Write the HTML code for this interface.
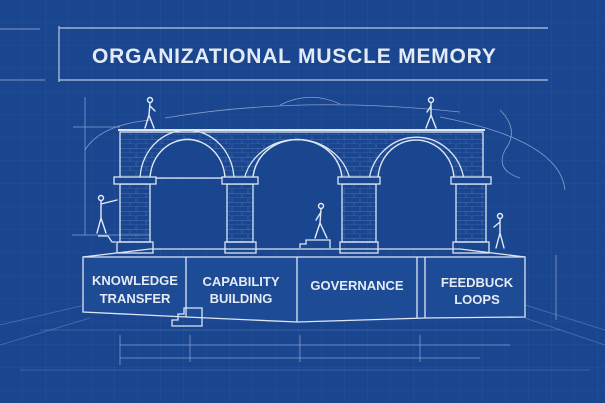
<!DOCTYPE html>
<html><head><style>
html,body{margin:0;padding:0;background:#1a4690;}
svg{display:block}
text{font-family:"Liberation Sans",sans-serif;font-weight:bold;fill:#e4ebf5}
</style></head><body>
<svg width="605" height="403" viewBox="0 0 605 403" xmlns="http://www.w3.org/2000/svg">
<defs>
<pattern id="g" width="23" height="23" patternUnits="userSpaceOnUse">
<path d="M23 0V23H0" fill="none" stroke="#3a63a8" stroke-width="0.6" opacity="0.7"/>
</pattern>
<pattern id="b" width="16" height="9" patternUnits="userSpaceOnUse">
<path d="M0 9H16M8 0V4.5M0 4.5H16M2 4.5V9" fill="none" stroke="#6f8fc4" stroke-width="0.5" opacity="0.6"/>
</pattern>
</defs>
<rect width="605" height="403" fill="#1a4690"/>
<rect width="605" height="403" fill="url(#g)"/>
<g stroke="#b9c8e2" stroke-width="1.2" fill="none">
<line x1="59" y1="28" x2="548" y2="28"/>
<line x1="59" y1="80" x2="548" y2="80"/>
<line x1="59" y1="26" x2="59" y2="82"/>
<line x1="0" y1="29" x2="40" y2="29" opacity="0.5"/>
<line x1="0" y1="80" x2="45" y2="80" opacity="0.5"/>
</g>
<text x="92" y="63" font-size="21" letter-spacing="0.8">ORGANIZATIONAL MUSCLE MEMORY</text>
<g stroke="#9fb4da" stroke-width="0.8" fill="none" opacity="0.8">
<path d="M165 118 Q300 95 460 112"/>
<path d="M280 105 Q310 90 340 104"/>
<path d="M85 150 Q100 125 150 120"/>
<path d="M440 117 Q560 140 565 190"/>
<path d="M500 110 Q520 130 505 150 Q495 170 520 178"/>
<line x1="85" y1="97" x2="85" y2="235"/>
<line x1="73" y1="127" x2="120" y2="127"/>
<line x1="72" y1="235" x2="200" y2="235"/>
<line x1="120" y1="345" x2="510" y2="345"/>
<line x1="120" y1="358" x2="480" y2="358"/>
<line x1="120" y1="335" x2="120" y2="365"/>
<line x1="190" y1="335" x2="190" y2="362"/>
<line x1="300" y1="335" x2="300" y2="362"/>
<line x1="420" y1="335" x2="420" y2="362"/>
<path d="M0 325 L85 305 M0 345 L90 318 M525 305 L605 330 M525 318 L605 345" opacity="0.5"/>
<line x1="40" y1="330" x2="560" y2="330" opacity="0.4"/>
<line x1="20" y1="370" x2="590" y2="370" opacity="0.4"/>
<line x1="556" y1="255" x2="556" y2="320"/>
</g>
<g stroke="#dce6f4" stroke-width="1.3" fill="none">
<rect x="120" y="132" width="363" height="46" fill="url(#b)"/>
<line x1="118" y1="130" x2="485" y2="130" stroke-width="2"/>
<path d="M150 180 A37 40 0 0 1 225 180 L225 178 L150 178Z" fill="#1a4690"/>
<path d="M253 180 A44 40 0 0 1 342 180" fill="#1a4690"/>
<path d="M378 180 A38 40 0 0 1 454 180" fill="#1a4690"/>
<path d="M150 180 A37 40 0 0 1 225 180"/>
<path d="M140 180 A47 50 0 0 1 234 180"/>
<path d="M253 180 A44 40 0 0 1 342 180"/>
<path d="M244 180 A54 50 0 0 1 350 180"/>
<path d="M378 180 A38 40 0 0 1 454 180"/>
<path d="M369 180 A48 50 0 0 1 464 180"/>
<rect x="150" y="182" width="75" height="66" fill="#1a4690" stroke="none"/>
<rect x="253" y="182" width="89" height="66" fill="#1a4690" stroke="none"/>
<rect x="378" y="182" width="76" height="66" fill="#1a4690" stroke="none"/>
<g fill="url(#b)">
<rect x="120" y="184" width="30" height="58"/>
<rect x="227" y="184" width="26" height="58"/>
<rect x="342" y="184" width="34" height="58"/>
<rect x="456" y="184" width="30" height="58"/>
</g>
<rect x="114" y="177" width="42" height="7" fill="#1a4690"/>
<rect x="222" y="177" width="36" height="7" fill="#1a4690"/>
<rect x="338" y="177" width="42" height="7" fill="#1a4690"/>
<rect x="451" y="177" width="40" height="7" fill="#1a4690"/>
<rect x="117" y="242" width="36" height="11"/>
<rect x="225" y="242" width="31" height="11"/>
<rect x="340" y="242" width="38" height="11"/>
<rect x="453" y="242" width="36" height="11"/>
<path d="M83 257 L150 249 L460 249 L525 257"/>
<path d="M83 257 L525 257 L525 317 L425 318 L297 322 L186 317 L83 312 Z" fill="#1d4b96"/>
<line x1="186" y1="257" x2="186" y2="317"/>
<line x1="297" y1="257" x2="297" y2="322"/>
<line x1="417" y1="257" x2="417" y2="318"/>
<line x1="425" y1="257" x2="425" y2="318"/>
<path d="M172 326 L172 320 L178 320 L178 314 L184 314 L184 308 L202 308 L202 326 Z"/>
<path d="M300 248 L300 244 L306 244 L306 240 L330 240 L330 248"/>
<path d="M98 236 L108 236 L112 242 L116 242"/>
</g>
<g stroke="#e4ebf5" stroke-width="1.4" fill="none" stroke-linecap="round">
<g transform="translate(150,100)"><circle cx="0" cy="0" r="2.5"/><path d="M0 3 L-1 15 M-1 15 L-5 28 M-1 15 L4 28 M0 6 L5 11"/></g>
<g transform="translate(431,100)"><circle cx="0" cy="0" r="2.5"/><path d="M0 3 L0 15 M0 15 L-5 28 M0 15 L5 28 M0 6 L-4 12"/></g>
<g transform="translate(101,198)"><circle cx="0" cy="0" r="2.5"/><path d="M0 3 L0 20 M0 20 L-4 35 M0 20 L5 35 M0 6 L16 2"/></g>
<g transform="translate(321,206)"><circle cx="0" cy="0" r="2.5"/><path d="M0 3 L-1 17 M-1 17 L-6 32 M-1 17 L6 32 M0 6 L-5 14"/></g>
<g transform="translate(500,216)"><circle cx="0" cy="0" r="2.5"/><path d="M0 3 L0 17 M0 17 L-4 32 M0 17 L4 32 M0 6 L-6 11"/></g>
</g>
<g font-size="13" text-anchor="middle">
<text x="135" y="285">KNOWLEDGE</text>
<text x="135" y="303">TRANSFER</text>
<text x="241" y="286">CAPABILITY</text>
<text x="241" y="303">BUILDING</text>
<text x="357" y="290">GOVERNANCE</text>
<text x="477" y="287">FEEDBUCK</text>
<text x="477" y="304">LOOPS</text>
</g>
</svg>
</body></html>
